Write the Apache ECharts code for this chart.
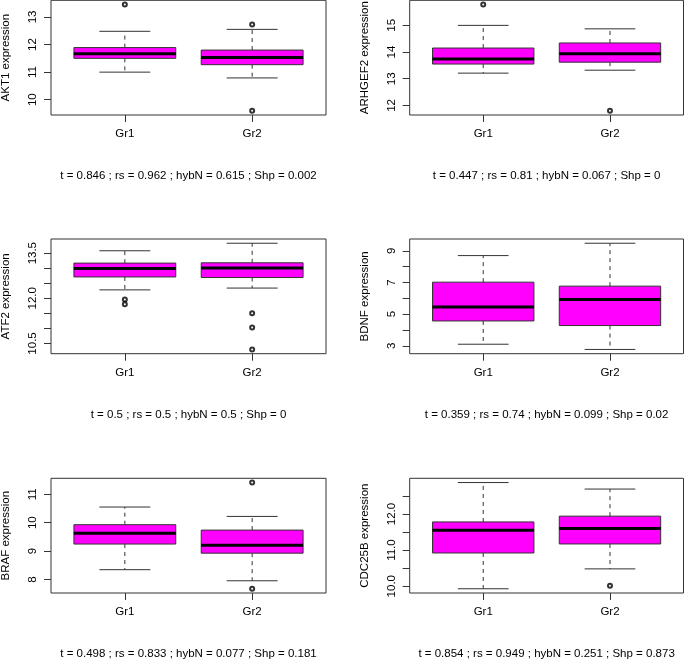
<!DOCTYPE html>
<html>
<head>
<meta charset="utf-8">
<script src="https://cdn.jsdelivr.net/npm/echarts@6/dist/echarts.min.js"></script>
<style>
html,body{margin:0;padding:0;background:#fff;}
#chart{width:685px;height:660px;}
</style>
</head>
<body>
<div id="chart"></div>
<script>
// ---- data ----
const groups = ['Gr1', 'Gr2'];
const genes = ['AKT1', 'ARHGEF2', 'ATF2', 'BDNF', 'BRAF', 'CDC25B'];
const statTexts = [
  't = 0.846 ; rs = 0.962 ; hybN = 0.615 ; Shp = 0.002',
  't = 0.447 ; rs = 0.81 ; hybN = 0.067 ; Shp = 0',
  't = 0.5 ; rs = 0.5 ; hybN = 0.5 ; Shp = 0',
  't = 0.359 ; rs = 0.74 ; hybN = 0.099 ; Shp = 0.02',
  't = 0.498 ; rs = 0.833 ; hybN = 0.077 ; Shp = 0.181',
  't = 0.854 ; rs = 0.949 ; hybN = 0.251 ; Shp = 0.873'
];
// box stats per group: [lower whisker, Q1, median, Q3, upper whisker]
const akt1Gr1 = [11.00, 11.50, 11.67, 11.89, 12.48];
const akt1Gr2 = [10.79, 11.27, 11.53, 11.80, 12.55];
const akt1Out = [[1, 13.45], [2, 12.73], [2, 9.60]];
const arhgef2Gr1 = [13.21, 13.55, 13.74, 14.15, 15.00];
const arhgef2Gr2 = [13.32, 13.62, 13.94, 14.34, 14.87];
const arhgef2Out = [[1, 15.78], [2, 11.80]];
const atf2Gr1 = [12.28, 12.71, 12.99, 13.17, 13.58];
const atf2Gr2 = [12.34, 12.69, 13.01, 13.18, 13.83];
const atf2Out = [[1, 11.96], [1, 11.80], [2, 11.50], [2, 11.03], [2, 10.30]];
const bdnfGr1 = [3.10, 4.57, 5.45, 7.02, 8.70];
const bdnfGr2 = [2.77, 4.28, 5.92, 6.77, 9.48];
const bdnfOut = [];
const brafGr1 = [8.35, 9.25, 9.63, 9.93, 10.55];
const brafGr2 = [7.96, 8.93, 9.21, 9.74, 10.22];
const brafOut = [[2, 11.41], [2, 7.68]];
const cdc25bGr1 = [9.93, 10.92, 11.55, 11.78, 12.87];
const cdc25bGr2 = [10.48, 11.17, 11.60, 11.94, 12.69];
const cdc25bOut = [[2, 10.01]];
// axis ticks and labels
const akt1Ticks = [10, 11, 12, 13];
const arhgef2Ticks = [12, 13, 14, 15];
const atf2Ticks = [10.5, 11.0, 11.5, 12.0, 12.5, 13.0, 13.5];
const atf2Labels = [10.5, 12.0, 13.5];
const bdnfTicks = [3, 4, 5, 6, 7, 8, 9];
const bdnfLabels = [3, 5, 7, 9];
const brafTicks = [8, 9, 10, 11];
const cdc25bTicks = [10.0, 10.5, 11.0, 11.5, 12.0, 12.5];
const cdc25bLabels = [10.0, 11.0, 12.0];

const panels = [
  {box: [akt1Gr1, akt1Gr2], out: akt1Out, ticks: akt1Ticks, labels: akt1Ticks, dec: 0},
  {box: [arhgef2Gr1, arhgef2Gr2], out: arhgef2Out, ticks: arhgef2Ticks, labels: arhgef2Ticks, dec: 0},
  {box: [atf2Gr1, atf2Gr2], out: atf2Out, ticks: atf2Ticks, labels: atf2Labels, dec: 1},
  {box: [bdnfGr1, bdnfGr2], out: bdnfOut, ticks: bdnfTicks, labels: bdnfLabels, dec: 0},
  {box: [brafGr1, brafGr2], out: brafOut, ticks: brafTicks, labels: brafTicks, dec: 0},
  {box: [cdc25bGr1, cdc25bGr2], out: cdc25bOut, ticks: cdc25bTicks, labels: cdc25bLabels, dec: 1}
];

// ---- layout ----
const colLeft = [51, 409.7];
const colWidth = [275, 273.8];
const rowTop = [0.3, 239, 478.3];
const plotH = 114.7;
const FONT = 'Liberation Sans, Arial, Helvetica, sans-serif';
const FS = 11.5;
const INK = '#333';

function rRange(p) {
  const vals = [];
  p.box.forEach(b => vals.push(...b));
  p.out.forEach(o => vals.push(o[1]));
  const mn = Math.min(...vals), mx = Math.max(...vals);
  const d = (mx - mn) * 0.04;
  return [mn - d, mx + d];
}

function renderBox(params, api) {
  const x = api.value(0);
  const lo = api.value(1), q1 = api.value(2), med = api.value(3), q3 = api.value(4), hi = api.value(5);
  const c = api.coord([x, med]);
  const bl = api.coord([x - 0.4, q3]);
  const br = api.coord([x + 0.4, q1]);
  const cl = api.coord([x - 0.2, hi])[0];
  const cr = api.coord([x + 0.2, hi])[0];
  const yHi = api.coord([x, hi])[1];
  const yLo = api.coord([x, lo])[1];
  const yQ1 = br[1], yQ3 = bl[1];
  const dash = {stroke: INK, lineWidth: 1, lineDash: [4, 4]};
  const solid = {stroke: INK, lineWidth: 1};
  return {
    type: 'group',
    children: [
      {type: 'line', shape: {x1: c[0], y1: yQ3, x2: c[0], y2: yHi}, style: dash},
      {type: 'line', shape: {x1: c[0], y1: yQ1, x2: c[0], y2: yLo}, style: dash},
      {type: 'line', shape: {x1: cl, y1: yHi, x2: cr, y2: yHi}, style: solid},
      {type: 'line', shape: {x1: cl, y1: yLo, x2: cr, y2: yLo}, style: solid},
      {type: 'rect', shape: {x: bl[0], y: yQ3, width: br[0] - bl[0], height: yQ1 - yQ3},
        style: {fill: '#FF00FF', stroke: INK, lineWidth: 1}},
      {type: 'line', shape: {x1: bl[0], y1: c[1], x2: br[0], y2: c[1]},
        style: {stroke: '#000', lineWidth: 3}}
    ]
  };
}

const grid = [], xAxis = [], yAxis = [], series = [];
panels.forEach((p, i) => {
  const col = i % 2, row = Math.floor(i / 2);
  const rng = rRange(p);
  grid.push({
    left: colLeft[col], top: rowTop[row], width: colWidth[col], height: plotH,
    show: true, borderColor: INK, borderWidth: 1, backgroundColor: 'transparent',
    containLabel: false, outerBoundsMode: 'none'
  });
  xAxis.push({
    gridIndex: i, type: 'value', min: 0.42, max: 2.58,
    axisLine: {show: false}, splitLine: {show: false},
    axisTick: {show: true, length: 7, customValues: [1, 2], lineStyle: {color: INK}},
    axisLabel: {customValues: [1, 2], margin: 13, color: '#000', fontFamily: FONT, fontSize: FS,
      formatter: v => groups[Math.round(v) - 1]},
    name: statTexts[i], nameLocation: 'middle', nameGap: 55,
    nameTextStyle: {color: '#000', fontFamily: FONT, fontSize: FS}
  });
  yAxis.push({
    gridIndex: i, type: 'value', min: rng[0], max: rng[1],
    axisLine: {show: false}, splitLine: {show: false},
    axisTick: {show: true, length: 7, customValues: p.ticks, lineStyle: {color: INK}},
    axisLabel: {customValues: p.labels, rotate: 90, margin: 12, color: '#000', fontFamily: FONT, fontSize: FS,
      formatter: v => Number(v).toFixed(p.dec)},
    name: genes[i] + ' expression', nameLocation: 'middle', nameGap: 39,
    nameTextStyle: {color: '#000', fontFamily: FONT, fontSize: FS}
  });
  series.push({
    type: 'custom', xAxisIndex: i, yAxisIndex: i,
    renderItem: renderBox,
    encode: {x: 0, y: [1, 2, 3, 4, 5]},
    data: p.box.map((b, k) => [k + 1].concat(b)),
    silent: true
  });
  series.push({
    type: 'scatter', xAxisIndex: i, yAxisIndex: i,
    symbol: 'emptyCircle', symbolSize: 4,
    itemStyle: {color: '#000', borderColor: '#222', borderWidth: 1},
    data: p.out, silent: true, z: 5
  });
});

const chart = echarts.init(document.getElementById('chart'), null, {renderer: 'canvas'});
chart.setOption({
  animation: false,
  backgroundColor: '#fff',
  textStyle: {fontFamily: FONT},
  grid, xAxis, yAxis, series
});
</script>
</body>
</html>
